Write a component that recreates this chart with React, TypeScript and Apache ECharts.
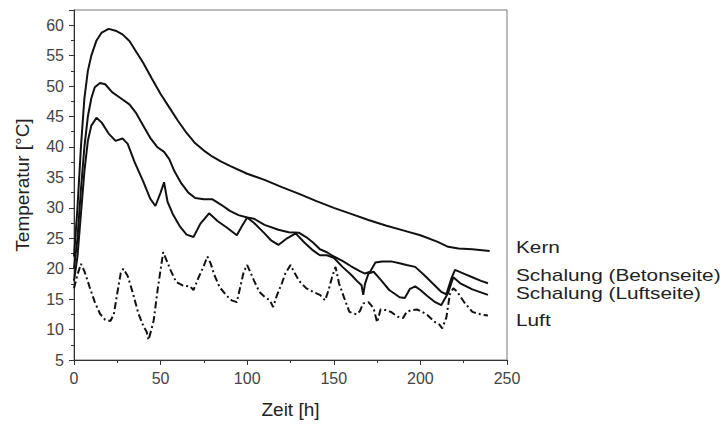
import React, { useEffect, useRef } from "react";
import * as echarts from "echarts";

// [Zeit h, Temperatur °C]
const kern: number[][] = [
  [0, 22], [2, 30], [4, 40], [6, 48], [8, 52.5], [10, 55], [13, 57.5], [16, 58.8], [20, 59.4],
  [24, 59.1], [28, 58.5], [32, 57.4], [36, 55.6], [40, 53.8], [45, 51.2], [50, 48.7], [55, 46.5],
  [60, 44.3], [65, 42.3], [70, 40.6], [75, 39.4], [80, 38.4], [85, 37.6], [90, 36.9], [100, 35.6],
  [110, 34.6], [120, 33.4], [130, 32.3], [140, 31.1], [150, 30], [160, 29], [170, 28], [180, 27.1],
  [190, 26.3], [200, 25.5], [210, 24.4], [216, 23.6], [222, 23.3], [230, 23.2], [240, 22.9],
];

const betonseite: number[][] = [
  [0, 20], [2, 25], [4, 33], [6, 40], [8, 45], [10, 48], [12, 49.8], [15, 50.5], [18, 50.3],
  [22, 49], [27, 48], [32, 47], [36, 45.5], [40, 43.5], [44, 41.5], [48, 40], [52, 39.2], [55, 38],
  [58, 36], [62, 34], [66, 32.5], [70, 31.6], [75, 31.4], [80, 31.4], [85, 30.5], [90, 29.5],
  [95, 28.8], [100, 28.4], [104, 28.2], [110, 27.2], [118, 26.4], [124, 26], [130, 25.9],
  [134, 25.2], [138, 24.3], [142, 23.2], [146, 22.7], [150, 22], [155, 21.3], [160, 20.4],
  [165, 19.6], [168, 19.2], [171, 19.5], [174, 21], [178, 21.2], [183, 21.2], [188, 20.9],
  [192, 20.6], [197, 20.3], [202, 19], [207, 17.6], [212, 16.2], [215, 15.8], [218, 18.5],
  [220, 19.8], [225, 19.2], [230, 18.6], [235, 18], [239, 17.6],
];

const luftseite: number[][] = [
  [0, 18], [2, 22], [4, 29], [6, 36], [8, 41], [10, 43.5], [13, 44.8], [16, 44], [20, 42.2],
  [24, 41], [28, 41.4], [31, 40.5], [35, 37.5], [40, 34.3], [44, 31.5], [47, 30.3], [50, 32.5],
  [52, 34.2], [54, 31], [57, 29], [61, 27], [65, 25.6], [69, 25.2], [73, 27.4], [78, 29.1],
  [83, 27.8], [88, 26.8], [94, 25.5], [97, 27], [100, 28.4], [104, 27.5], [110, 25.8],
  [114, 24.6], [118, 23.9], [123, 25], [128, 25.8], [133, 24.3], [138, 23], [142, 22.2],
  [146, 22.2], [150, 21.8], [155, 20.3], [160, 19], [164, 17.8], [166, 17.3], [167, 15.7],
  [168, 17.5], [170, 19.2], [173, 19.5], [177, 18.2], [182, 16.5], [188, 15.3], [191, 15.2],
  [194, 16.7], [197, 17.1], [200, 16.5], [204, 15.5], [208, 14.6], [212, 14], [216, 16],
  [219, 18.6], [223, 17.6], [230, 16.6], [239, 15.7],
];

const luft: number[][] = [
  [0, 16.8], [2, 19], [4, 20.8], [6, 19.6], [9, 17], [12, 14.5], [15, 12.6], [18, 11.6],
  [21, 11.4], [23, 12.5], [25, 16], [27, 19.3], [28.5, 20], [31, 18.8], [34, 16], [37, 12.8],
  [40, 10.6], [42, 9.6], [43, 8.3], [44.5, 9.8], [46, 11.5], [48.5, 17], [51.5, 22.7], [54, 21],
  [56, 19.6], [59, 17.8], [63, 17.2], [67, 17.1], [69, 16.5], [72, 18.6], [75, 20.5], [77, 22],
  [79, 20.8], [81, 19], [84, 17], [88, 15.6], [91, 14.8], [94, 14.5], [96, 17], [98, 19.5],
  [100, 20.6], [102, 19.3], [104, 18], [107, 16.2], [110, 15.4], [113, 14.8], [115, 13.7],
  [117, 15.5], [120, 17.6], [122, 19.2], [125, 20.6], [127, 19.5], [130, 18], [134, 16.8],
  [138, 16.2], [142, 15.7], [145, 14.8], [147, 16.5], [149, 18.6], [151, 20.3], [153, 17.6],
  [156, 15.2], [159, 12.9], [163, 12.5], [165, 13], [167, 14.3], [170, 14.5], [173, 13.5],
  [175, 11.2], [177, 13.3], [180, 13.2], [183, 12.9], [187, 12.1], [190, 11.9], [192, 12.9],
  [195, 13.2], [198, 13.3], [201, 12.9], [204, 12.4], [208, 11.3], [211, 10.8], [212.6, 10.2],
  [215, 12], [217, 15.8], [219, 16.8], [221, 16.3], [225, 14.6], [230, 12.9], [236, 12.4],
  [239, 12.3],
];

const seriesNames = ["Kern", "Schalung (Betonseite)", "Schalung (Luftseite)", "Luft"];
const labelTops = [239, 267, 285, 312];

const FONT = "'Liberation Sans', Arial, sans-serif";

export default function App() {
  const ref = useRef<HTMLDivElement>(null);
  useEffect(() => {
    if (!ref.current) return;
    const chart = echarts.init(ref.current, null, { renderer: "svg" });
    const lineBase = { type: "line", symbol: "none", silent: true };
    chart.setOption({
      animation: false,
      backgroundColor: "#ffffff",
      textStyle: { fontFamily: FONT },
      grid: {
        left: 74,
        right: 219,
        top: 10,
        bottom: 68,
        show: true,
        borderColor: "#777",
        borderWidth: 1,
        backgroundColor: "transparent",
      },
      xAxis: {
        type: "value",
        min: 0,
        max: 250,
        interval: 50,
        name: "Zeit [h]",
        nameLocation: "middle",
        nameGap: 40,
        nameTextStyle: { fontSize: 19, color: "#222", fontFamily: FONT },
        axisLine: { show: true, lineStyle: { color: "#333", width: 1 } },
        axisTick: { show: true, length: 5, lineStyle: { color: "#333" } },
        minorTick: { show: true, splitNumber: 2, length: 3, lineStyle: { color: "#333" } },
        splitLine: { show: false },
        axisLabel: { fontSize: 16, color: "#444", margin: 10, fontFamily: FONT },
      },
      yAxis: {
        type: "value",
        min: 5,
        max: 62.5,
        interval: 5,
        name: "Temperatur [°C]",
        nameLocation: "middle",
        nameGap: 42,
        nameTextStyle: { fontSize: 19, color: "#222", fontFamily: FONT },
        axisLine: { show: true, lineStyle: { color: "#333", width: 1 } },
        axisTick: { show: true, length: 5, lineStyle: { color: "#333" } },
        minorTick: { show: true, splitNumber: 2, length: 3, lineStyle: { color: "#333" } },
        splitLine: { show: false },
        axisLabel: {
          fontSize: 16,
          color: "#444",
          margin: 10,
          fontFamily: FONT,
          formatter: (v: number) => (v % 5 === 0 ? String(v) : ""),
        },
      },
      series: [
        { ...lineBase, name: seriesNames[0], data: kern, lineStyle: { color: "#111", width: 2 } },
        { ...lineBase, name: seriesNames[1], data: betonseite, lineStyle: { color: "#111", width: 2 } },
        { ...lineBase, name: seriesNames[2], data: luftseite, lineStyle: { color: "#111", width: 2 } },
        {
          ...lineBase,
          name: seriesNames[3],
          data: luft,
          lineStyle: { color: "#111", width: 2, type: [7, 3, 2, 3] },
        },
      ],
      graphic: seriesNames.map((n, i) => ({
        type: "text",
        x: 516,
        y: labelTops[i],
        scaleX: 1.3,
        style: { text: n, fontSize: 16, fill: "#222", fontFamily: FONT },
      })),
    });
    return () => chart.dispose();
  }, []);
  return (
    <div
      ref={ref}
      style={{ position: "fixed", left: 0, top: 0, width: 726, height: 428 }}
    />
  );
}
